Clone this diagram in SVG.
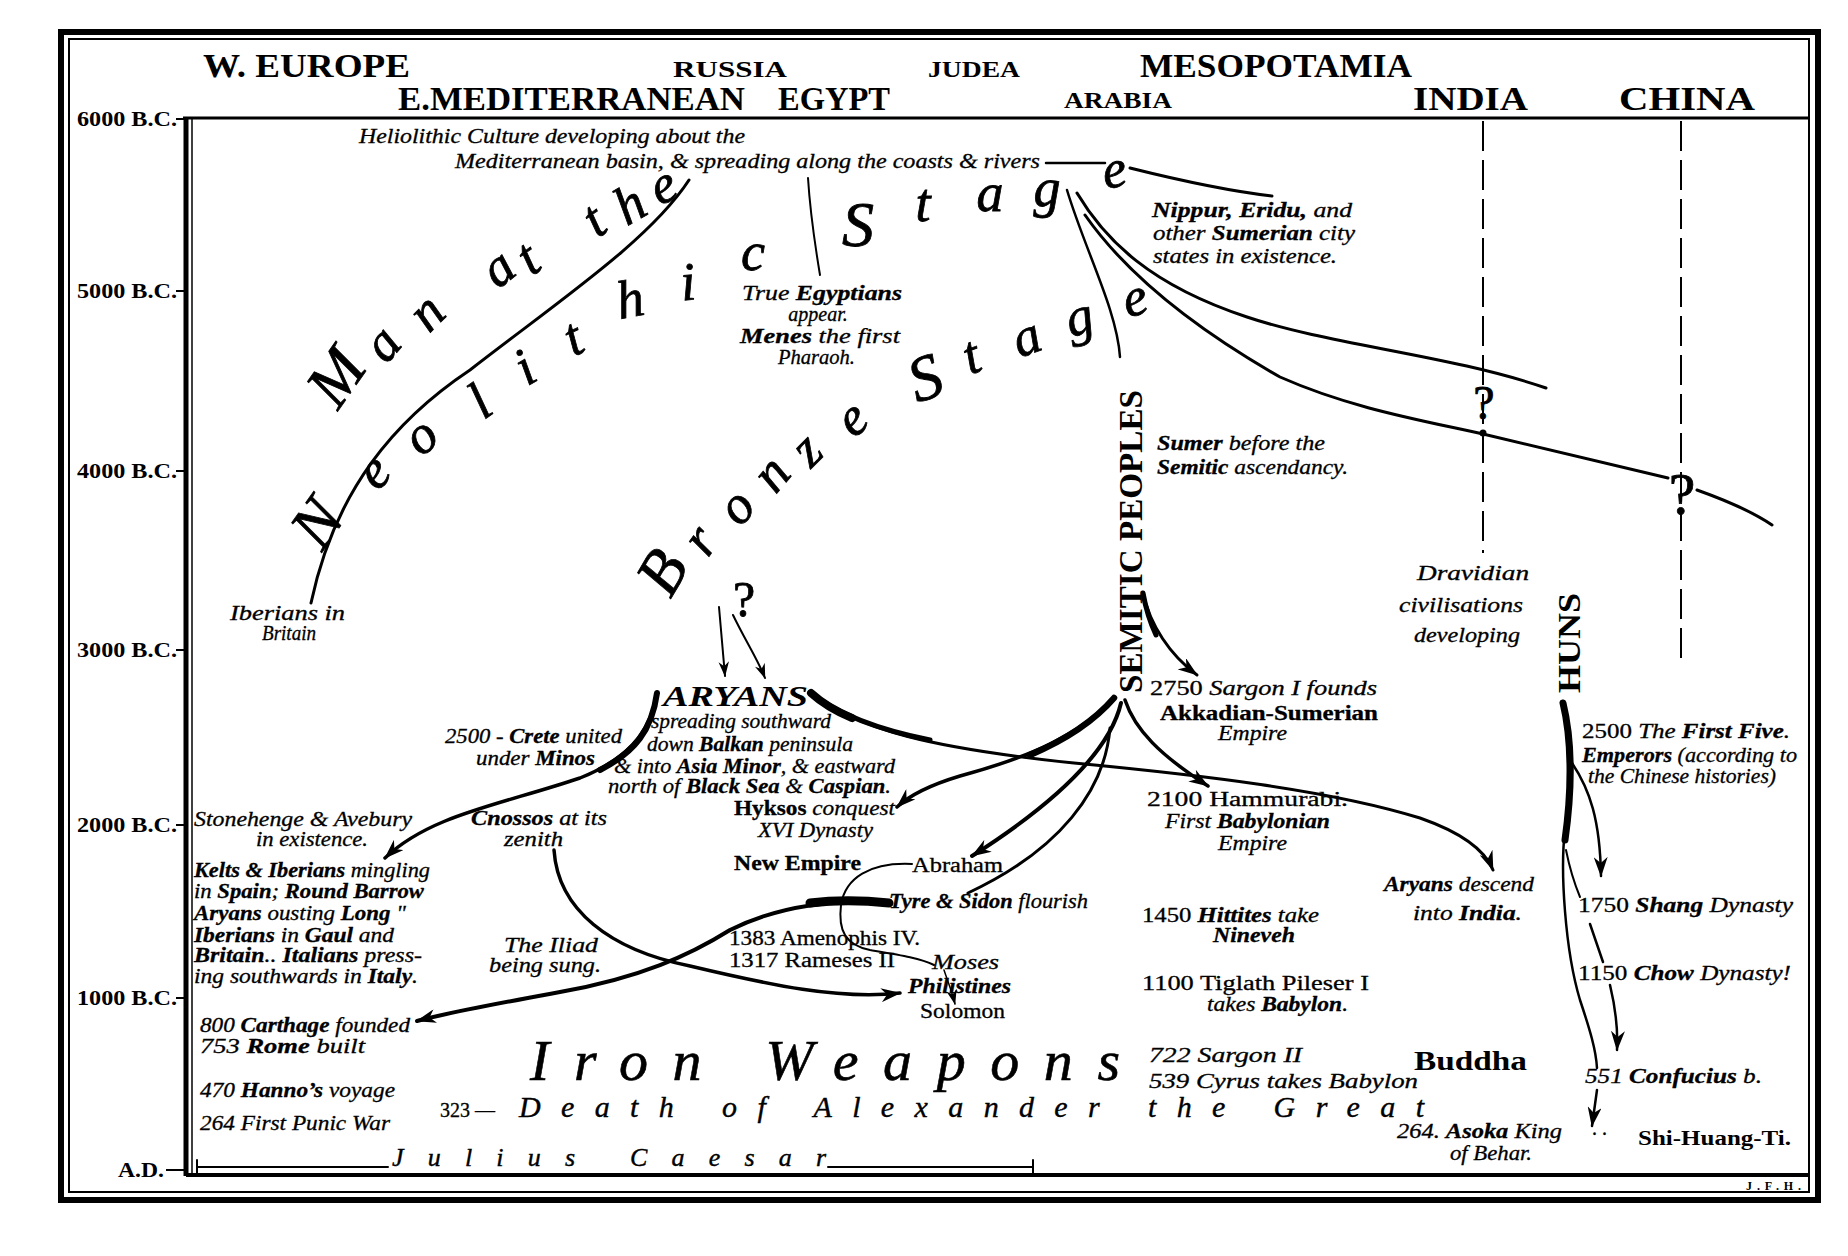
<svg xmlns="http://www.w3.org/2000/svg" width="1848" height="1256" viewBox="0 0 1848 1256">
<defs>
<style>
.t{font-family:"Liberation Serif","Times New Roman",serif;fill:#000}
.i{font-style:italic}
.b{font-weight:bold}
.hd{font-size:33px;font-weight:bold}
.sc{font-size:23px;font-weight:bold}
.ax{font-size:22px}
.n{font-size:20px;font-style:italic;stroke:#000;stroke-width:0.3}
.u{font-size:20px;stroke:#000;stroke-width:0.3}
.bl{font-family:"Liberation Serif","Times New Roman",serif;font-style:italic;font-size:54px;text-anchor:middle;fill:#000;stroke:#000;stroke-width:0.8}
.bc{font-size:64px}
.ln{fill:none;stroke:#000;stroke-linecap:round;stroke-linejoin:round}
.fr{fill:none;stroke:#000}
</style>
<marker id="ah" viewBox="0 0 20 14" refX="19" refY="7" markerWidth="20" markerHeight="14" markerUnits="userSpaceOnUse" orient="auto"><path d="M0,0 L20,7 L0,14 L6,7 Z" fill="#000"/></marker>
<marker id="ahs" viewBox="0 0 20 14" refX="19" refY="7" markerWidth="15" markerHeight="11" markerUnits="userSpaceOnUse" orient="auto"><path d="M0,0 L20,7 L0,14 L6,7 Z" fill="#000"/></marker>
</defs>

<g id="frame">
<rect x="0" y="0" width="1848" height="1256" fill="#fff"/>
<rect class="fr" x="61" y="32" width="1757" height="1168" stroke-width="6"/>
<rect class="fr" x="69" y="39" width="1740" height="1153" stroke-width="2"/>
<path class="fr" d="M183,118 H1809" stroke-width="3"/>
<path class="fr" d="M186,118 V1176" stroke-width="5"/>
<path class="fr" d="M192,118 V1175" stroke-width="1.5"/>
<path class="fr" d="M186,1175 H1809" stroke-width="4"/>
<path class="fr" d="M1483,121 V553 M1681,121 V665" stroke-width="2" stroke-dasharray="30 9"/>
<path class="fr" d="M176,119 H186 M176,291 H186 M176,471 H186 M176,650 H186 M176,825 H186 M176,998 H186 M166,1170 H186" stroke-width="2"/>
</g>

<g id="regions">
<g id="region-w-europe"><text class="t hd" x="203" y="77" textLength="207" lengthAdjust="spacingAndGlyphs">W. EUROPE</text></g>
<g id="region-russia"><text class="t sc" x="673" y="77" textLength="114" lengthAdjust="spacingAndGlyphs">RUSSIA</text></g>
<g id="region-judea"><text class="t sc" x="928" y="77" textLength="92" lengthAdjust="spacingAndGlyphs">JUDEA</text></g>
<g id="region-mesopotamia"><text class="t hd" x="1140" y="77" textLength="272" lengthAdjust="spacingAndGlyphs">MESOPOTAMIA</text></g>
<g id="region-e-med"><text class="t hd" x="398" y="110" textLength="347" lengthAdjust="spacingAndGlyphs">E.MEDITERRANEAN</text></g>
<g id="region-egypt"><text class="t hd" x="778" y="110" textLength="112" lengthAdjust="spacingAndGlyphs">EGYPT</text></g>
<g id="region-arabia"><text class="t sc" x="1064" y="108" textLength="108" lengthAdjust="spacingAndGlyphs">ARABIA</text></g>
<g id="region-india"><text class="t hd" x="1413" y="110" textLength="115" lengthAdjust="spacingAndGlyphs">INDIA</text></g>
<g id="region-china"><text class="t hd" x="1619" y="110" textLength="136" lengthAdjust="spacingAndGlyphs">CHINA</text></g>
</g>

<g id="axis-labels">
<text class="t ax b" x="177" y="126" text-anchor="end" textLength="100" lengthAdjust="spacingAndGlyphs">6000 B.C.</text>
<text class="t ax b" x="177" y="298" text-anchor="end" textLength="100" lengthAdjust="spacingAndGlyphs">5000 B.C.</text>
<text class="t ax b" x="177" y="478" text-anchor="end" textLength="100" lengthAdjust="spacingAndGlyphs">4000 B.C.</text>
<text class="t ax b" x="177" y="657" text-anchor="end" textLength="100" lengthAdjust="spacingAndGlyphs">3000 B.C.</text>
<text class="t ax b" x="177" y="832" text-anchor="end" textLength="100" lengthAdjust="spacingAndGlyphs">2000 B.C.</text>
<text class="t ax b" x="177" y="1005" text-anchor="end" textLength="100" lengthAdjust="spacingAndGlyphs">1000 B.C.</text>
<text class="t ax b" x="164" y="1177" text-anchor="end" textLength="46" lengthAdjust="spacingAndGlyphs">A.D.</text>
</g>

<g id="connectors">
<path class="ln" d="M1046,163 H1105" stroke-width="2.5"/>
<path class="ln" d="M1130,168 C1170,178 1220,190 1272,196" stroke-width="3"/>
<path class="ln" d="M1067,190 C1085,250 1117,310 1120,357" stroke-width="2.5"/>
<path class="ln" d="M1077,193 C1105,240 1150,285 1247,317 C1330,345 1450,355 1546,388" stroke-width="3"/>
<path class="ln" d="M1085,215 C1120,265 1180,320 1280,377 C1350,408 1420,420 1483,434 C1560,452 1620,466 1668,478 M1697,490 C1725,500 1750,510 1772,525" stroke-width="3"/>
<circle cx="1483" cy="433" r="3.5" fill="#000"/>
<path class="ln" d="M808,178 C810,210 815,245 820,275" stroke-width="2"/>
<path class="ln" d="M689,180 C650,240 560,300 470,370 C395,420 335,490 311,603" stroke-width="3"/>
<path class="ln" d="M719,607 L725,676" stroke-width="2" marker-end="url(#ahs)"/>
<path class="ln" d="M733,615 C745,640 758,660 765,678" stroke-width="2" marker-end="url(#ahs)"/>
<path class="ln" d="M811,693 C860,730 930,748 1074,763 C1200,775 1330,790 1420,818 C1460,832 1485,850 1493,870" stroke-width="3" marker-end="url(#ah)"/>
<path class="ln" d="M811,693 C835,712 870,728 930,740" stroke-width="5"/>
<path class="ln" d="M811,693 C822,703 835,711 852,718" stroke-width="8"/>
<path class="ln" d="M657,693 C650,735 625,760 580,778 C500,805 430,815 385,858" stroke-width="3.5" marker-end="url(#ah)"/>
<path class="ln" d="M657,693 C652,730 635,752 600,770" stroke-width="6"/>
<path class="ln" d="M1114,698 C1080,735 1030,757 960,776 C930,785 910,795 897,807" stroke-width="3.5" marker-end="url(#ah)"/>
<path class="ln" d="M1114,698 C1095,720 1070,738 1030,755" stroke-width="6.5"/>
<path class="ln" d="M1121,703 C1110,750 1060,800 972,856" stroke-width="4" marker-end="url(#ah)"/>
<path class="ln" d="M1110,728 C1105,790 1060,850 968,893" stroke-width="3"/>
<path class="ln" d="M1125,700 C1135,730 1160,755 1208,786" stroke-width="3.5" marker-end="url(#ah)"/>
<path class="ln" d="M1143,593 C1150,625 1170,655 1197,675" stroke-width="3" marker-end="url(#ah)"/>
<path class="ln" d="M1143,593 C1146,610 1150,622 1156,635" stroke-width="5"/>
<path class="ln" d="M912,864 C870,862 845,878 841,905 C838,930 845,945 870,950 C900,955 920,958 934,965" stroke-width="2"/>
<path class="ln" d="M944,970 C948,982 952,992 955,1004" stroke-width="1.5" marker-end="url(#ahs)"/>
<path class="ln" d="M554,850 C558,910 610,950 690,966 C770,985 840,1000 900,993" stroke-width="3.5" marker-end="url(#ah)"/>
<path class="ln" d="M889,903 C820,898 770,910 730,930 C690,955 640,978 560,992 C500,1003 450,1012 417,1021" stroke-width="4" marker-end="url(#ah)"/>
<path class="ln" d="M889,903 C860,900 835,900 810,903" stroke-width="9"/>
<path class="ln" d="M1563,703 C1572,740 1572,790 1565,830 C1560,870 1565,950 1580,1000 C1590,1030 1596,1050 1597,1068" stroke-width="2.5"/>
<path class="ln" d="M1563,703 C1572,740 1572,790 1565,840" stroke-width="7"/>
<path class="ln" d="M1572,763 C1590,790 1600,820 1601,876" stroke-width="2.5" marker-end="url(#ah)"/>
<path class="ln" d="M1566,850 C1570,870 1575,885 1580,897" stroke-width="2"/>
<path class="ln" d="M1590,924 L1603,962" stroke-width="2.5"/>
<path class="ln" d="M1610,985 C1616,1010 1618,1030 1617,1050" stroke-width="2.5" marker-end="url(#ah)"/>
<path class="ln" d="M1597,1090 L1592,1126" stroke-width="2.5" marker-end="url(#ah)"/>
<path class="ln" d="M197,1167 H388 M828,1167 H1033 M197,1160 V1174 M1033,1160 V1174" stroke-width="2"/>
</g>

<g id="label-man-at-the">
<text class="bl bc" transform="translate(336,377) rotate(-55)" y="21">M</text>
<text class="bl" transform="translate(386,347) rotate(-50)" y="12">a</text>
<text class="bl" transform="translate(430,316) rotate(-45)" y="12">n</text>
<text class="bl" transform="translate(501,272) rotate(-38)" y="12">a</text>
<text class="bl" transform="translate(529,260) rotate(-35)" y="15">t</text>
<text class="bl" transform="translate(595,222) rotate(-35)" y="15">t</text>
<text class="bl" transform="translate(630,205) rotate(-30)" y="17">h</text>
<text class="bl" transform="translate(665,190) rotate(-25)" y="12">e</text>
</g>

<g id="label-neolithic-stage">
<text class="bl bc" transform="translate(317,523) rotate(-55)" y="21">N</text>
<text class="bl" transform="translate(377,475) rotate(-45)" y="12">e</text>
<text class="bl" transform="translate(424,440) rotate(-40)" y="12">o</text>
<text class="bl" transform="translate(480,402) rotate(-35)" y="17">l</text>
<text class="bl" transform="translate(525,368) rotate(-30)" y="17">i</text>
<text class="bl" transform="translate(574,340) rotate(-25)" y="15">t</text>
<text class="bl" transform="translate(630,300) rotate(-10)" y="17">h</text>
<text class="bl" transform="translate(688,283) rotate(-5)" y="17">i</text>
<text class="bl" transform="translate(753,258)" y="12">c</text>
<text class="bl bc" transform="translate(858,225)" y="21">S</text>
<text class="bl" transform="translate(923,206)" y="15">t</text>
<text class="bl" transform="translate(990,199)" y="12">a</text>
<text class="bl" transform="translate(1047,200)" y="6">g</text>
<text class="bl" transform="translate(1115,175) rotate(-10)" y="12">e</text>
</g>

<g id="label-bronze-stage">
<text class="bl bc" transform="translate(662,572) rotate(-60)" y="21">B</text>
<text class="bl" transform="translate(704,543) rotate(-55)" y="12">r</text>
<text class="bl" transform="translate(740,510) rotate(-50)" y="12">o</text>
<text class="bl" transform="translate(775,477) rotate(-50)" y="12">n</text>
<text class="bl" transform="translate(810,453) rotate(-45)" y="12">z</text>
<text class="bl" transform="translate(855,422) rotate(-40)" y="12">e</text>
<text class="bl bc" transform="translate(925,378) rotate(-20)" y="21">S</text>
<text class="bl" transform="translate(972,358) rotate(-20)" y="15">t</text>
<text class="bl" transform="translate(1028,342) rotate(-20)" y="12">a</text>
<text class="bl" transform="translate(1082,328) rotate(-15)" y="6">g</text>
<text class="bl" transform="translate(1136,303) rotate(-15)" y="12">e</text>
</g>

<g id="label-iron-weapons">
<text class="t i" font-size="58" stroke="#000" stroke-width="0.6" x="530" y="1080" textLength="590">Iron Weapons</text>
</g>
<g id="label-alexander">
<text class="t u" font-size="22" x="440" y="1117">323 —</text>
<text class="t i" font-size="30" stroke="#000" stroke-width="0.4" x="519" y="1117" textLength="905">Death of Alexander the Great</text>
</g>
<g id="label-julius-caesar">
<text class="t i" font-size="26" stroke="#000" stroke-width="0.4" x="392" y="1166" textLength="434">Julius Caesar</text>
</g>

<g id="node-heliolithic">
<text class="t n" x="359" y="143" textLength="386" lengthAdjust="spacingAndGlyphs">Heliolithic Culture developing about the</text>
<text class="t n" x="455" y="168" textLength="585" lengthAdjust="spacingAndGlyphs">Mediterranean basin, &amp; spreading along the coasts &amp; rivers</text>
</g>
<g id="node-egyptians">
<text class="t n" x="742" y="300" textLength="160" lengthAdjust="spacingAndGlyphs">True <tspan class="b">Egyptians</tspan></text>
<text class="t n" x="818" y="321" font-size="16" text-anchor="middle">appear.</text>
<text class="t n" x="740" y="343" textLength="160" lengthAdjust="spacingAndGlyphs"><tspan class="b">Menes</tspan> the first</text>
<text class="t n" x="778" y="364" font-size="17" textLength="77" lengthAdjust="spacingAndGlyphs">Pharaoh.</text>
</g>
<g id="node-nippur">
<text class="t n" x="1152" y="217" textLength="200" lengthAdjust="spacingAndGlyphs"><tspan class="b">Nippur, Eridu,</tspan> and</text>
<text class="t n" x="1153" y="240" textLength="202" lengthAdjust="spacingAndGlyphs">other <tspan class="b">Sumerian</tspan> city</text>
<text class="t n" x="1153" y="263" textLength="184" lengthAdjust="spacingAndGlyphs">states in existence.</text>
</g>
<g id="node-sumer">
<text class="t n" x="1157" y="450" textLength="168" lengthAdjust="spacingAndGlyphs"><tspan class="b">Sumer</tspan> before the</text>
<text class="t n" x="1157" y="474" textLength="191" lengthAdjust="spacingAndGlyphs"><tspan class="b">Semitic</tspan> ascendancy.</text>
</g>
<g id="node-dravidian">
<text class="t n" x="1417" y="580" textLength="112" lengthAdjust="spacingAndGlyphs">Dravidian</text>
<text class="t n" x="1399" y="612" textLength="124" lengthAdjust="spacingAndGlyphs">civilisations</text>
<text class="t n" x="1414" y="642" textLength="106" lengthAdjust="spacingAndGlyphs">developing</text>
</g>
<g id="node-iberians-britain">
<text class="t n" x="230" y="620" textLength="115" lengthAdjust="spacingAndGlyphs">Iberians in</text>
<text class="t n" x="262" y="640" textLength="54" lengthAdjust="spacingAndGlyphs">Britain</text>
</g>
<g id="node-india-q"><text class="t" font-size="48" stroke="#000" stroke-width="0.8" x="1484" y="419" text-anchor="middle">?</text></g>
<g id="node-china-q"><text class="t" font-size="60" stroke="#000" stroke-width="0.8" x="1682" y="514" text-anchor="middle">?</text></g>
<g id="node-aryan-q"><text class="t" font-size="50" stroke="#000" stroke-width="0.8" x="744" y="616" text-anchor="middle">?</text></g>

<g id="node-semitic-peoples">
<text class="t b" font-size="33" transform="translate(1142,693) rotate(-90)" textLength="303" lengthAdjust="spacingAndGlyphs">SEMITIC PEOPLES</text>
</g>
<g id="node-huns">
<text class="t b" font-size="32" transform="translate(1580,693) rotate(-90)" textLength="100" lengthAdjust="spacingAndGlyphs">HUNS</text>
</g>

<g id="node-aryans">
<text class="t i b" font-size="29" x="663" y="706" textLength="145" lengthAdjust="spacingAndGlyphs">ARYANS</text>
<text class="t n" font-size="19" x="651" y="728" textLength="180" lengthAdjust="spacingAndGlyphs">spreading southward</text>
<text class="t n" font-size="19" x="647" y="751" textLength="206" lengthAdjust="spacingAndGlyphs">down <tspan class="b">Balkan</tspan> peninsula</text>
<text class="t n" font-size="19" x="614" y="773" textLength="281" lengthAdjust="spacingAndGlyphs">&amp; into <tspan class="b">Asia Minor</tspan>, &amp; eastward</text>
<text class="t n" font-size="19" x="608" y="793" textLength="283" lengthAdjust="spacingAndGlyphs">north of <tspan class="b">Black Sea</tspan> &amp; <tspan class="b">Caspian</tspan>.</text>
</g>
<g id="node-crete">
<text class="t n" x="445" y="743" textLength="177" lengthAdjust="spacingAndGlyphs">2500 - <tspan class="b">Crete</tspan> united</text>
<text class="t n" x="476" y="765" textLength="119" lengthAdjust="spacingAndGlyphs">under <tspan class="b">Minos</tspan></text>
</g>
<g id="node-hyksos">
<text class="t n" x="734" y="815" textLength="161" lengthAdjust="spacingAndGlyphs"><tspan class="b" font-style="normal">Hyksos</tspan> conquest</text>
<text class="t n" x="758" y="837" textLength="115" lengthAdjust="spacingAndGlyphs">XVI Dynasty</text>
</g>
<g id="node-new-empire"><text class="t u b" x="734" y="870" textLength="127" lengthAdjust="spacingAndGlyphs">New Empire</text></g>
<g id="node-abraham"><text class="t u" x="912" y="872" textLength="91" lengthAdjust="spacingAndGlyphs">Abraham</text></g>
<g id="node-tyre"><text class="t n" x="889" y="908" textLength="199" lengthAdjust="spacingAndGlyphs"><tspan class="b">Tyre &amp; Sidon</tspan> flourish</text></g>
<g id="node-amenophis">
<text class="t u" x="729" y="945" textLength="191" lengthAdjust="spacingAndGlyphs">1383 Amenophis IV.</text>
<text class="t u" x="729" y="967" textLength="166" lengthAdjust="spacingAndGlyphs">1317 Rameses II</text>
</g>
<g id="node-moses"><text class="t n" x="932" y="969" textLength="67" lengthAdjust="spacingAndGlyphs">Moses</text></g>
<g id="node-philistines"><text class="t n b" x="908" y="993" textLength="103" lengthAdjust="spacingAndGlyphs">Philistines</text></g>
<g id="node-solomon"><text class="t u" x="920" y="1018" textLength="85" lengthAdjust="spacingAndGlyphs">Solomon</text></g>

<g id="node-stonehenge">
<text class="t n" x="194" y="826" textLength="218" lengthAdjust="spacingAndGlyphs">Stonehenge &amp; Avebury</text>
<text class="t n" x="256" y="846" textLength="112" lengthAdjust="spacingAndGlyphs">in existence.</text>
</g>
<g id="node-kelts">
<text class="t n" x="194" y="877" textLength="236" lengthAdjust="spacingAndGlyphs"><tspan class="b">Kelts &amp; Iberians</tspan> mingling</text>
<text class="t n" x="194" y="898" textLength="230" lengthAdjust="spacingAndGlyphs">in <tspan class="b">Spain</tspan>; <tspan class="b">Round Barrow</tspan></text>
<text class="t n" x="194" y="920" textLength="212" lengthAdjust="spacingAndGlyphs"><tspan class="b">Aryans</tspan> ousting <tspan class="b">Long</tspan>  "</text>
<text class="t n" x="194" y="942" textLength="200" lengthAdjust="spacingAndGlyphs"><tspan class="b">Iberians</tspan> in <tspan class="b">Gaul</tspan> and</text>
<text class="t n" x="194" y="962" textLength="228" lengthAdjust="spacingAndGlyphs"><tspan class="b">Britain</tspan>.. <tspan class="b">Italians</tspan> press-</text>
<text class="t n" x="194" y="983" textLength="224" lengthAdjust="spacingAndGlyphs">ing southwards in <tspan class="b">Italy</tspan>.</text>
</g>
<g id="node-cnossos">
<text class="t n" x="471" y="825" textLength="136" lengthAdjust="spacingAndGlyphs"><tspan class="b">Cnossos</tspan> at its</text>
<text class="t n" x="504" y="846" textLength="59" lengthAdjust="spacingAndGlyphs">zenith</text>
</g>
<g id="node-iliad">
<text class="t n" x="504" y="952" textLength="94" lengthAdjust="spacingAndGlyphs">The Iliad</text>
<text class="t n" x="489" y="972" textLength="112" lengthAdjust="spacingAndGlyphs">being sung.</text>
</g>
<g id="node-carthage">
<text class="t n" x="200" y="1032" textLength="210" lengthAdjust="spacingAndGlyphs">800 <tspan class="b">Carthage</tspan> founded</text>
<text class="t n" x="200" y="1053" textLength="165" lengthAdjust="spacingAndGlyphs">753 <tspan class="b">Rome</tspan> built</text>
</g>
<g id="node-hanno"><text class="t n" x="200" y="1097" textLength="195" lengthAdjust="spacingAndGlyphs">470 <tspan class="b">Hanno’s</tspan> voyage</text></g>
<g id="node-punic"><text class="t n" x="200" y="1130" textLength="190" lengthAdjust="spacingAndGlyphs">264 First Punic War</text></g>

<g id="node-sargon">
<text class="t n" x="1150" y="695" textLength="227" lengthAdjust="spacingAndGlyphs"><tspan font-style="normal">2750</tspan> Sargon I founds</text>
<text class="t u b" x="1160" y="720" textLength="218" lengthAdjust="spacingAndGlyphs">Akkadian-Sumerian</text>
<text class="t n" x="1218" y="740" textLength="69" lengthAdjust="spacingAndGlyphs">Empire</text>
</g>
<g id="node-hammurabi">
<text class="t u" x="1147" y="806" textLength="201" lengthAdjust="spacingAndGlyphs">2100 Hammurabi.</text>
<text class="t n" x="1165" y="828" textLength="165" lengthAdjust="spacingAndGlyphs">First <tspan class="b">Babylonian</tspan></text>
<text class="t n" x="1218" y="850" textLength="69" lengthAdjust="spacingAndGlyphs">Empire</text>
</g>
<g id="node-hittites">
<text class="t n" x="1142" y="922" textLength="177" lengthAdjust="spacingAndGlyphs"><tspan font-style="normal">1450</tspan> <tspan class="b">Hittites</tspan> take</text>
<text class="t n b" x="1213" y="942" textLength="82" lengthAdjust="spacingAndGlyphs">Nineveh</text>
</g>
<g id="node-tiglath">
<text class="t u" x="1142" y="990" textLength="227" lengthAdjust="spacingAndGlyphs">1100 Tiglath Pileser I</text>
<text class="t n" x="1207" y="1011" textLength="141" lengthAdjust="spacingAndGlyphs">takes <tspan class="b">Babylon</tspan>.</text>
</g>
<g id="node-aryans-india">
<text class="t n" x="1384" y="891" textLength="150" lengthAdjust="spacingAndGlyphs"><tspan class="b">Aryans</tspan> descend</text>
<text class="t n" x="1413" y="920" textLength="109" lengthAdjust="spacingAndGlyphs">into <tspan class="b">India</tspan>.</text>
</g>
<g id="node-sargon2">
<text class="t n" x="1149" y="1062" textLength="153" lengthAdjust="spacingAndGlyphs">722 Sargon II</text>
<text class="t n" x="1149" y="1088" textLength="269" lengthAdjust="spacingAndGlyphs">539 Cyrus takes Babylon</text>
</g>
<g id="node-buddha"><text class="t b" font-size="28" x="1414" y="1070" textLength="113" lengthAdjust="spacingAndGlyphs">Buddha</text></g>
<g id="node-asoka">
<text class="t n" x="1397" y="1138" textLength="165" lengthAdjust="spacingAndGlyphs">264. <tspan class="b">Asoka</tspan> King</text>
<text class="t n" x="1450" y="1160" textLength="82" lengthAdjust="spacingAndGlyphs">of Behar.</text>
</g>
<g id="node-five-emperors">
<text class="t n" x="1582" y="738" textLength="208" lengthAdjust="spacingAndGlyphs"><tspan font-style="normal">2500</tspan> The <tspan class="b">First Five</tspan>.</text>
<text class="t n" x="1582" y="762" textLength="215" lengthAdjust="spacingAndGlyphs"><tspan class="b">Emperors</tspan> (according to</text>
<text class="t n" x="1588" y="783" textLength="188" lengthAdjust="spacingAndGlyphs">the Chinese histories)</text>
</g>
<g id="node-shang"><text class="t n" x="1578" y="912" textLength="215" lengthAdjust="spacingAndGlyphs"><tspan font-style="normal">1750</tspan>  <tspan class="b">Shang</tspan> Dynasty</text></g>
<g id="node-chow"><text class="t n" x="1578" y="980" textLength="213" lengthAdjust="spacingAndGlyphs"><tspan font-style="normal">1150</tspan>  <tspan class="b">Chow</tspan> Dynasty!</text></g>
<g id="node-confucius"><text class="t n" x="1585" y="1083" textLength="177" lengthAdjust="spacingAndGlyphs">551 <tspan class="b">Confucius</tspan> b.</text></g>
<g id="node-shi-huang-ti"><text class="t b" font-size="20" x="1638" y="1145" textLength="153" lengthAdjust="spacingAndGlyphs">Shi-Huang-Ti.</text></g>
<g id="node-dots"><text class="t u" x="1592" y="1135">. .</text></g>
<g id="signature"><text class="t b" font-size="12" x="1746" y="1190" textLength="55">J.F.H.</text></g>
</svg>
